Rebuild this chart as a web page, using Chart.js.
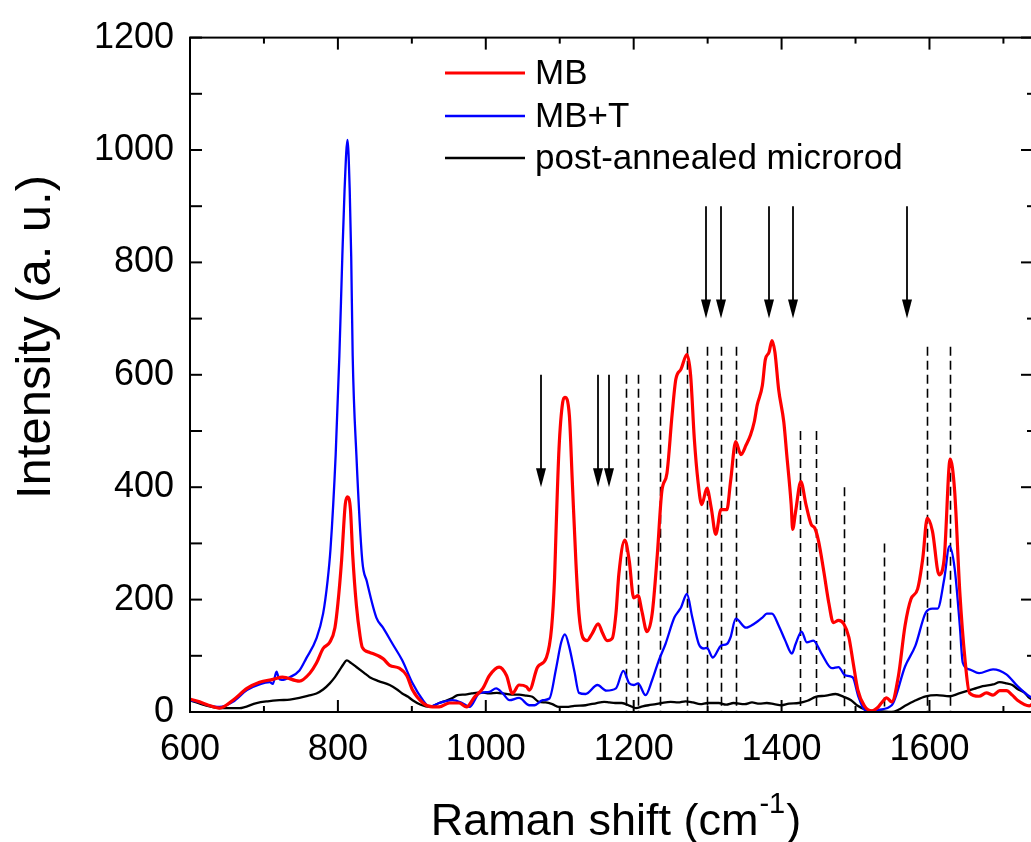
<!DOCTYPE html>
<html><head><meta charset="utf-8">
<script src="https://cdn.jsdelivr.net/npm/chart.js@4"></script>
<style>html,body{margin:0;padding:0;overflow:hidden;background:#fff;width:1031px;height:842px}canvas{display:block}</style>
</head><body><canvas id="c" width="1040" height="842"></canvas>
<script>
// ---- data (Raman shift in cm-1, intensity in a.u.) ----
const mbX=[600,613,625,640,658,677,694,712,725,748,762,771,780,789,796,800,805,810,813,817,820,825,830,833,843,861,870,883,893,901,915,928,937,951,964,974,985,996,1005,1018,1028,1036,1045,1055,1059,1070,1082,1089,1093,1095,1099,1104,1107,1113,1117,1122,1126,1131,1137,1144,1152,1158,1164,1171,1176,1180,1188,1194,1200,1206,1211,1218,1225,1232,1238,1245,1252,1257,1264,1272,1277,1282,1287,1292,1299,1305,1311,1318,1326,1331,1338,1345,1352,1358,1363,1367,1374,1378,1383,1387,1391,1396,1403,1407,1413,1415,1419,1426,1433,1440,1445,1450,1457,1464,1470,1477,1484,1491,1497,1503,1512,1522,1530,1535,1542,1549,1558,1567,1575,1584,1591,1597,1604,1613,1620,1628,1634,1641,1648,1654,1667,1677,1686,1695,1704,1712,1719,1735,1740];
const mbY=[23,18,12,7,21,42,53,58,62,55,69,87,113,124,150,193,270,370,383,360,280,190,135,115,106,95,83,78,65,39,16,9,9,16,16,9,27,42,65,80,65,33,48,45,39,80,97,150,238,322,468,551,560,528,410,263,175,133,127,140,157,140,127,131,175,246,306,269,203,207,180,143,175,281,392,425,530,592,610,636,599,486,410,369,398,362,316,360,360,410,481,458,475,493,516,546,581,627,640,661,640,574,516,458,369,325,357,410,369,334,327,304,251,193,159,163,157,133,86,40,11,2,8,16,25,18,64,154,201,219,274,345,322,244,274,450,394,214,94,34,28,34,30,38,38,30,21,11,15];

const mbtX=[600,613,625,640,658,677,694,708,712,717,720,724,735,748,757,771,780,786,790,797,802,806,809,813,816,818,820,825,833,839,852,861,874,887,901,915,924,937,955,968,978,991,1005,1014,1023,1032,1045,1059,1066,1077,1086,1095,1102,1107,1113,1120,1126,1135,1151,1163,1176,1186,1194,1200,1206,1216,1225,1234,1243,1255,1261,1264,1272,1279,1288,1295,1299,1307,1318,1326,1331,1338,1352,1363,1374,1380,1387,1396,1405,1414,1419,1427,1434,1443,1454,1468,1477,1486,1496,1504,1512,1522,1531,1549,1567,1581,1595,1604,1611,1620,1627,1634,1641,1645,1654,1667,1686,1704,1719,1735,1740];
const mbtY=[21,17,12,9,18,39,49,53,50,72,60,57,62,74,95,131,175,233,290,458,634,811,928,1018,928,811,634,458,269,233,168,150,121,92,51,21,9,16,21,16,9,33,36,42,33,21,25,12,12,21,24,77,124,138,115,71,34,32,48,38,42,73,51,48,51,30,57,92,121,168,180,186,210,170,121,113,114,97,118,121,133,166,150,157,168,175,175,154,127,104,121,143,124,127,104,78,80,65,62,27,4,0,4,12,81,118,177,184,184,237,295,256,154,88,76,69,76,67,46,28,25];

const annX=[600,620,640,667,690,705,721,735,748,760,771,780,789,796,802,807,812,818,825,835,843,855,870,880,887,895,901,912,924,937,946,955,962,972,981,993,1005,1015,1023,1035,1045,1055,1063,1072,1081,1090,1099,1109,1120,1135,1150,1160,1167,1175,1184,1195,1203,1212,1220,1230,1238,1250,1260,1270,1280,1290,1300,1315,1325,1335,1350,1360,1370,1380,1390,1400,1410,1423,1435,1446,1460,1473,1484,1494,1503,1512,1522,1535,1549,1558,1567,1580,1595,1610,1627,1640,1650,1660,1672,1686,1695,1704,1712,1719,1728,1735,1740];
const annY=[21,12,7,7,16,19,21,22,25,29,33,40,51,62,74,84,92,87,80,70,62,55,48,40,33,27,21,13,9,16,20,25,30,31,33,35,33,34,33,31,31,29,27,18,17,14,9,9,11,12,16,18,17,16,16,11,7,10,12,14,16,18,17,19,17,14,16,16,13,16,14,17,15,16,14,12,15,16,20,27,29,32,27,21,11,5,2,1,0,4,11,20,28,30,28,33,37,41,46,49,53,51,48,41,35,25,22];

// annotation markers: arrows and dashed reference lines (data coords)
const arrowX=[1075,1152,1167,1298,1318,1383,1415,1569];
const arrowTop=[600,600,600,900,900,900,900,900];
const arrowTip=[400,400,400,700,700,700,700,700];
const dashX=[1190,1206,1236,1272,1299,1318,1338,1425,1447,1485,1538,1597,1628];
const dashTop=[600,600,600,650,650,650,650,500,500,400,300,650,650];

const xTickVals=[600,800,1000,1200,1400,1600];
const yTickVals=[0,200,400,600,800,1000,1200];
const xMinorVals=[700,900,1100,1300,1500,1700];
const yMinorVals=[100,300,500,700,900,1100];

const labels=['MB','MB+T','post-annealed microrod'];
const colors=['#ff0000','#0000ff','#000000'];
const FONT="'Liberation Sans', Arial, sans-serif";

const zip=(xs,ys)=>xs.map((x,i)=>({x:x,y:ys[i]}));

const framePlugin={
  id:'frame',
  beforeDatasetsDraw(chart){
    const ctx=chart.ctx, xs=chart.scales.x, ys=chart.scales.y;
    ctx.save();
    ctx.strokeStyle='#000';ctx.lineWidth=1.6;ctx.setLineDash([9,5]);
    dashX.forEach((v,i)=>{
      const px=Math.round(xs.getPixelForValue(v))+0.5;
      ctx.beginPath();ctx.moveTo(px,ys.getPixelForValue(dashTop[i]));ctx.lineTo(px,ys.getPixelForValue(0));ctx.stroke();
    });
    ctx.restore();
  },
  afterDatasetsDraw(chart){
    const ctx=chart.ctx, xs=chart.scales.x, ys=chart.scales.y, a=chart.chartArea;
    ctx.save();
    // arrows
    ctx.strokeStyle='#1a1a1a';ctx.fillStyle='#000';ctx.lineWidth=2;
    arrowX.forEach((v,i)=>{
      const px=Math.round(xs.getPixelForValue(v));
      const top=ys.getPixelForValue(arrowTop[i]), tip=ys.getPixelForValue(arrowTip[i]);
      ctx.beginPath();ctx.moveTo(px,top);ctx.lineTo(px,tip-12);ctx.stroke();
      ctx.beginPath();ctx.moveTo(px-5,tip-19);ctx.lineTo(px+5,tip-19);ctx.lineTo(px,tip);ctx.closePath();ctx.fill();
    });
    // frame
    ctx.strokeStyle='#000';ctx.lineWidth=2;
    ctx.strokeRect(a.left,a.top,a.right-a.left,a.bottom-a.top);
    const tick=(x1,y1,x2,y2)=>{ctx.beginPath();ctx.moveTo(x1,y1);ctx.lineTo(x2,y2);ctx.stroke();};
    xTickVals.forEach(v=>{const p=xs.getPixelForValue(v);tick(p,a.bottom,p,a.bottom-12);tick(p,a.top,p,a.top+12);});
    xMinorVals.forEach(v=>{const p=xs.getPixelForValue(v);tick(p,a.bottom,p,a.bottom-6);tick(p,a.top,p,a.top+6);});
    yTickVals.forEach(v=>{const p=ys.getPixelForValue(v);tick(a.left,p,a.left+12,p);tick(a.right,p,a.right-12,p);});
    yMinorVals.forEach(v=>{const p=ys.getPixelForValue(v);tick(a.left,p,a.left+12,p);tick(a.right,p,a.right-6,p);});
    // legend
    const ly=[73,116,158];
    chart.data.datasets.forEach((d,i)=>{
      ctx.strokeStyle=d.borderColor;ctx.lineWidth=d.borderWidth;
      tick(445,ly[i],525,ly[i]);
      ctx.fillStyle='#000';ctx.font='35px '+FONT;ctx.textBaseline='middle';ctx.textAlign='left';
      ctx.fillText(d.label,535,ly[i]+1);
    });
    // axis titles
    ctx.fillStyle='#000';ctx.textBaseline='alphabetic';ctx.textAlign='left';
    const t1='Raman shift (cm', sup='-1', t2=')';
    ctx.font='45px '+FONT;const w1=ctx.measureText(t1).width, w3=ctx.measureText(t2).width;
    ctx.font='29px '+FONT;const w2=ctx.measureText(sup).width;
    let x0=615-(w1+w2+w3)/2;
    ctx.font='45px '+FONT;ctx.fillText(t1,x0,835);
    ctx.font='29px '+FONT;ctx.fillText(sup,x0+w1+1,813);
    ctx.font='45px '+FONT;ctx.fillText(t2,x0+w1+w2+2,835);
    ctx.save();ctx.translate(36,337);ctx.rotate(-Math.PI/2);
    ctx.font='49px '+FONT;ctx.textAlign='center';ctx.textBaseline='middle';
    ctx.fillText('Intensity (a. u.)',0,0);
    ctx.restore();
    ctx.restore();
  }
};

new Chart(document.getElementById('c'),{
  type:'line',
  data:{datasets:[
    {label:labels[0],data:zip(mbX,mbY),borderColor:colors[0],borderWidth:3.2,pointRadius:0,cubicInterpolationMode:'monotone',fill:false},
    {label:labels[1],data:zip(mbtX,mbtY),borderColor:colors[1],borderWidth:2.3,pointRadius:0,cubicInterpolationMode:'monotone',fill:false},
    {label:labels[2],data:zip(annX,annY),borderColor:colors[2],borderWidth:2.3,pointRadius:0,cubicInterpolationMode:'monotone',fill:false}
  ]},
  options:{
    responsive:false,animation:false,
    layout:{padding:{top:33,right:7,left:0,bottom:0}},
    plugins:{legend:{display:false},tooltip:{enabled:false}},
    scales:{
      x:{type:'linear',min:600,max:1740,
        afterBuildTicks:s=>{s.ticks=xTickVals.map(v=>({value:v}));},
        afterFit:s=>{s.height=130;},
        grid:{display:false,drawTicks:false},border:{display:false},
        ticks:{font:{size:36,family:FONT},color:'#000',padding:16,maxRotation:0,autoSkip:false,callback:v=>String(v)}},
      y:{type:'linear',min:0,max:1200,
        afterBuildTicks:s=>{s.ticks=yTickVals.map(v=>({value:v}));},
        afterFit:s=>{s.width=190;},
        grid:{display:false,drawTicks:false},border:{display:false},
        ticks:{font:{size:36,family:FONT},color:'#000',padding:16,callback:v=>String(v)}}
    }
  },
  plugins:[framePlugin]
});
</script></body></html>
